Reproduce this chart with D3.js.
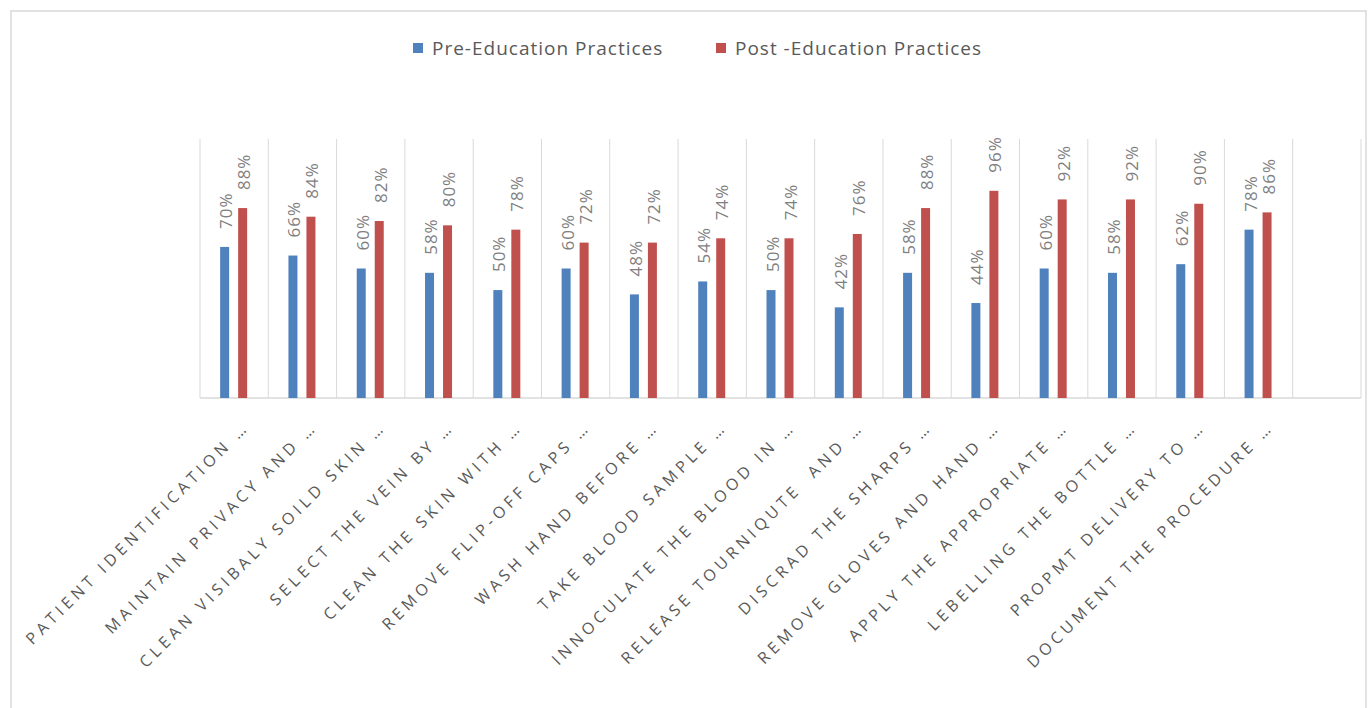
<!DOCTYPE html>
<html>
<head>
<meta charset="utf-8">
<script src="https://cdn.jsdelivr.net/npm/d3@7"></script>
<style>
  body { margin: 0; background: #fff; }
  svg { display: block; }
</style>
</head>
<body>
<div id="chart"></div>
<script>
const categories = [
    "PATIENT IDENTIFICATION …",
    "MAINTAIN PRIVACY AND …",
    "CLEAN VISIBALY SOILD SKIN …",
    "SELECT THE VEIN BY …",
    "CLEAN THE SKIN WITH …",
    "REMOVE FLIP-OFF CAPS …",
    "WASH HAND BEFORE …",
    "TAKE BLOOD SAMPLE …",
    "INNOCULATE THE BLOOD IN …",
    "RELEASE TOURNIQUTE  AND …",
    "DISCRAD THE SHARPS …",
    "REMOVE GLOVES AND HAND …",
    "APPLY THE APPROPRIATE …",
    "LEBELLING THE BOTTLE …",
    "PROPMT DELIVERY TO …",
    "DOCUMENT THE PROCEDURE …",
    "" // empty slot at the end, as in the source sheet
]
const preValues = [70, 66, 60, 58, 50, 60, 48, 54, 50, 42, 58, 44, 60, 58, 62, 78]
const postValues = [88, 84, 82, 80, 78, 72, 72, 74, 74, 76, 88, 96, 92, 92, 90, 86]
const seriesNames = ["Pre-Education Practices", "Post -Education Practices"]
const seriesColors = ["#4f81bd", "#c0504d"]

const width = 1369, height = 708
const plot = { left: 200, right: 1361, top: 139, bottom: 398 }

const svg = d3.select("#chart")
    .append("svg")
    .attr("width", width)
    .attr("height", height)
    .style("font-family", "'Open Sans', 'Liberation Sans', sans-serif")

// chart border
svg.append("rect")
    .attr("x", 11).attr("y", 11)
    .attr("width", 1355).attr("height", 720)
    .attr("fill", "none")
    .attr("stroke", "#d9d9d9")
    .attr("stroke-width", 1.5)

const x = d3.scaleBand()
    .domain(d3.range(categories.length))
    .range([plot.left, plot.right])

const y = d3.scaleLinear()
    .domain([0, 120])
    .range([plot.bottom, plot.top])

// pair of bars sits around the category centre
const x1 = d3.scaleBand()
    .domain([0, 1])
    .range([x.bandwidth() / 2 - 14, x.bandwidth() / 2 + 13])
    .paddingInner(0.5)

// vertical category gridlines
svg.append("g")
    .selectAll("line")
    .data(d3.range(categories.length + 1))
    .join("line")
    .attr("x1", i => i < categories.length ? x(i) : plot.right)
    .attr("x2", i => i < categories.length ? x(i) : plot.right)
    .attr("y1", plot.top)
    .attr("y2", plot.bottom)
    .attr("stroke", "#d9d9d9")
    .attr("stroke-width", 1)

// baseline
svg.append("line")
    .attr("x1", plot.left).attr("x2", plot.right)
    .attr("y1", plot.bottom).attr("y2", plot.bottom)
    .attr("stroke", "#d9d9d9")
    .attr("stroke-width", 1.5)

const rows = []
preValues.forEach((v, i) => {
    rows.push({ cat: i, s: 0, v: v })
    rows.push({ cat: i, s: 1, v: postValues[i] })
})

svg.append("g")
    .selectAll("rect")
    .data(rows)
    .join("rect")
    .attr("x", d => x(d.cat) + x1(d.s))
    .attr("width", x1.bandwidth())
    .attr("y", d => y(d.v))
    .attr("height", d => y(0) - y(d.v))
    .attr("fill", d => seriesColors[d.s])

// rotated value labels
svg.append("g")
    .selectAll("text")
    .data(rows)
    .join("text")
    .attr("transform", d => `translate(${x(d.cat) + x1(d.s) + x1.bandwidth() / 2 + 1}, ${y(d.v) - 18}) rotate(-90)`)
    .attr("dominant-baseline", "central")
    .attr("text-anchor", "start")
    .attr("fill", "#7f7f7f")
    .style("font-size", "17px")
    .style("letter-spacing", "1px")
    .text(d => d.v + "%")

// category labels at 45 degrees
svg.append("g")
    .selectAll("text")
    .data(categories.slice(0, preValues.length))
    .join("text")
    .attr("transform", (d, i) => `translate(${x(i) + x.bandwidth() / 2 + 16}, 428) rotate(-45)`)
    .attr("text-anchor", "end")
    .attr("fill", "#595959")
    .style("font-size", "16px")
    .style("letter-spacing", "4.3px")
    .style("white-space", "pre")
    .text(d => d)

// legend
const legendX = [413, 716]
const legend = svg.append("g")
    .selectAll("g")
    .data(seriesNames)
    .join("g")
    .attr("transform", (d, i) => `translate(${legendX[i]}, 48)`)
legend.append("rect")
    .attr("x", 0).attr("y", -5)
    .attr("width", 10).attr("height", 10)
    .attr("fill", (d, i) => seriesColors[i])
legend.append("text")
    .attr("x", 19)
    .attr("dy", "0.35em")
    .attr("fill", "#595959")
    .style("font-size", "19px")
    .style("letter-spacing", "1px")
    .text(d => d)
</script>
</body>
</html>
